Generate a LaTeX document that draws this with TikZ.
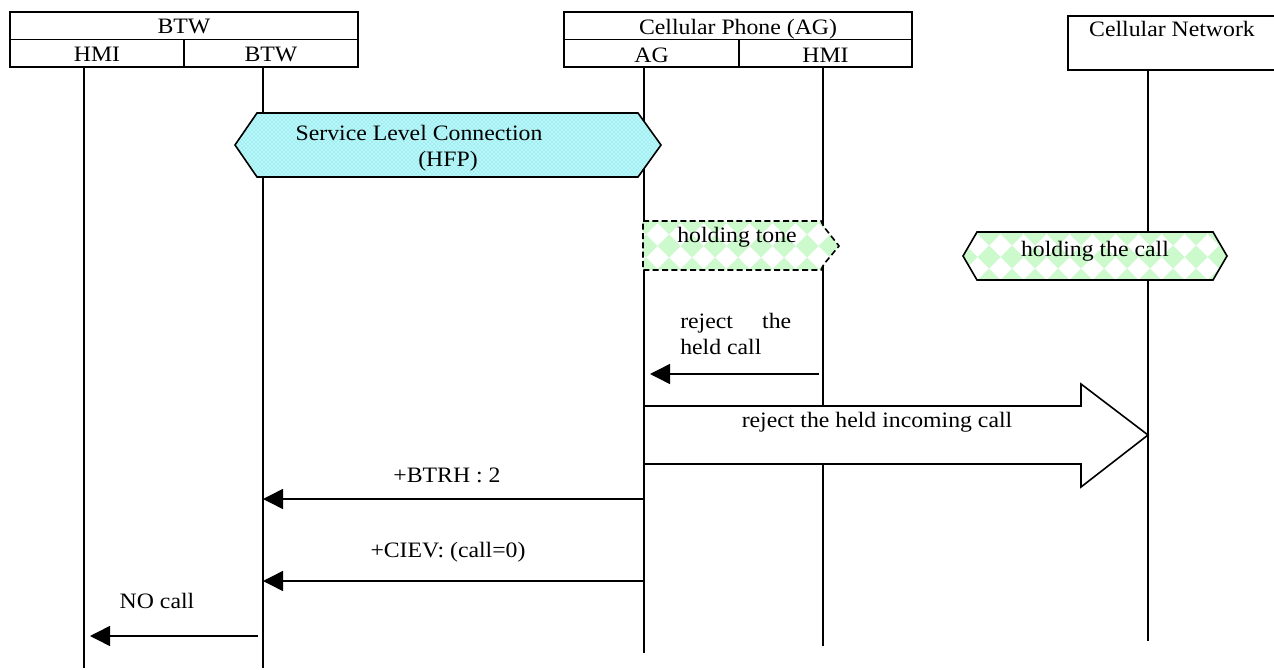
\documentclass[tikz,border=0pt]{standalone}
\usepackage{fontspec}
\setmainfont{Liberation Serif}[FakeStretch=1.08]
\usetikzlibrary{arrows.meta,patterns,calc}
\definecolor{mint}{RGB}{204,250,204}
\definecolor{slcfill}{RGB}{190,246,248}
\definecolor{slcdot}{RGB}{60,222,232}
\begin{document}
\begin{tikzpicture}[x=0.75pt,y=-0.75pt,
  font=\fontsize{16.5}{19}\selectfont,
  hbox/.style={draw, line width=1.3pt, rectangle, inner sep=0pt},
  life/.style={line width=1.1pt},
  msg/.style={line width=1.1pt, -{Triangle[length=15pt,width=15pt]}},
  txt/.style={inner sep=0pt, anchor=base},
  shapeline/.style={line width=1.2pt, line join=miter}
]
\useasboundingbox (0,0) rectangle (1274,670);

% ---------- header boxes ----------
\node[hbox, minimum width={348*0.75pt}, minimum height={27.5*0.75pt}] (btwT) at (184,25.75) {};
\node[hbox, minimum width={174*0.75pt}, minimum height={27.5*0.75pt}] (btwH) at (97,53.25) {};
\node[hbox, minimum width={174*0.75pt}, minimum height={27.5*0.75pt}] (btwB) at (271,53.25) {};
\node[txt] (tbtwT) at (184,34) {BTW};
\node[txt] (tbtwH) at (97,62) {HMI};
\node[txt] (tbtwB) at (271,62) {BTW};

\node[hbox, minimum width={348*0.75pt}, minimum height={27.5*0.75pt}] (phT) at (738,25.75) {};
\node[hbox, minimum width={175*0.75pt}, minimum height={27.5*0.75pt}] (phA) at (651.5,53.25) {};
\node[hbox, minimum width={173*0.75pt}, minimum height={27.5*0.75pt}] (phH) at (825.5,53.25) {};
\node[txt] (tphT) at (738,35) {Cellular Phone (AG)};
\node[txt] (tphA) at (651.5,62.5) {AG};
\node[txt] (tphH) at (825.5,62.5) {HMI};

\node[hbox, minimum width={212*0.75pt}, minimum height={54*0.75pt}, anchor=north west] (net) at (1067,15) {};
\node[txt] (tnet) at (1172,37) {Cellular Network};

% ---------- lifelines ----------
\coordinate (l1t) at (84,67);   \coordinate (l1b) at (84,668);
\coordinate (l2t) at (263,67);  \coordinate (l2b) at (263,668);
\coordinate (l3t) at (644,67);  \coordinate (l3b) at (644,653);
\coordinate (l4t) at (823,67);  \coordinate (l4b) at (823,646);
\coordinate (l5t) at (1148,69); \coordinate (l5b) at (1148,641);
\draw[life] (l1t) -- (l1b);
\draw[life] (l2t) -- (l2b);
\draw[life] (l3t) -- (l3b);
\draw[life] (l4t) -- (l4b);
\draw[life] (l5t) -- (l5b);

% ---------- Service Level Connection ----------
\fill[slcfill] (235,145) -- (257,113) -- (638,113) -- (661,145) -- (638,177) -- (257,177) -- cycle;
\fill[pattern=crosshatch dots, pattern color=slcdot] (235,145) -- (257,113) -- (638,113) -- (661,145) -- (638,177) -- (257,177) -- cycle;
\draw[shapeline] (235,145) -- (257,113) -- (638,113) -- (661,145) -- (638,177) -- (257,177) -- cycle;
\node[txt] (slc1) at (419,141) {Service Level Connection};
\node[txt] (slc2) at (448,167) {(HFP)};

% ---------- holding tone ----------
\begin{scope}
  \clip (643,221) -- (821,221) -- (824,227) -- (839,246) -- (824,264) -- (821,270) -- (643,270) -- cycle;
  \fill[white] (630,210) rectangle (850,280);
  \foreach \cx in {646,669,...,870}
    \foreach \cy in {223,246,...,300}
      \fill[mint] (\cx,\cy) +(-11.5,0) -- +(0,-11.5) -- +(11.5,0) -- +(0,11.5) -- cycle;
\end{scope}
\draw[shapeline, dash pattern=on 4.5pt off 2.5pt] (643,221) -- (821,221) -- (824,227) -- (839,246) -- (824,264) -- (821,270) -- (643,270) -- cycle;
\node[txt] (tone) at (737,243) {holding tone};

% ---------- holding the call ----------
\begin{scope}
  \clip (963,256) -- (977,232) -- (1213,232) -- (1227,256) -- (1213,280) -- (977,280) -- cycle;
  \fill[white] (955,225) rectangle (1235,290);
  \foreach \cx in {966,989,...,1250}
    \foreach \cy in {234,257,...,310}
      \fill[mint] (\cx,\cy) +(-11.5,0) -- +(0,-11.5) -- +(11.5,0) -- +(0,11.5) -- cycle;
\end{scope}
\draw[shapeline] (963,256) -- (977,232) -- (1213,232) -- (1227,256) -- (1213,280) -- (977,280) -- cycle;
\node[txt] (hold) at (1095,257) {holding the call};

% ---------- reject the held call ----------
\node[inner sep=0pt, anchor=base west] (rj1) at (680,329) {\makebox[83.25pt][s]{reject the}};
\node[inner sep=0pt, anchor=base west] (rj2) at (680,354) {held call};
\coordinate (rjS) at (819,374);
\coordinate (rjE) at (650,374);
\draw[msg] (rjS) -- (rjE);

% ---------- big arrow ----------
\coordinate (bigS) at (644,435);
\coordinate (bigE) at (1148,435);
\draw[shapeline, fill=white] ($(bigS)+(0,-29)$) -- ($(bigE)+(-67,-29)$) -- ($(bigE)+(-67,-51)$) -- (bigE)
  -- ($(bigE)+(-67,52)$) -- ($(bigE)+(-67,29)$) -- ($(bigS)+(0,29)$) -- cycle;
\node[txt] (big) at (877,427) {reject the held incoming call};

% ---------- messages ----------
\coordinate (m1S) at (644,499); \coordinate (m1E) at (263,499);
\draw[msg] (m1S) -- (m1E);
\node[txt] (m1) at (447,482) {+BTRH : 2};

\coordinate (m2S) at (644,581); \coordinate (m2E) at (263,581);
\draw[msg] (m2S) -- (m2E);
\node[txt] (m2) at (448,557) {+CIEV: (call=0)};

\coordinate (m3S) at (258,636); \coordinate (m3E) at (90,636);
\draw[msg] (m3S) -- (m3E);
\node[txt] (m3) at (157,608) {NO call};
\end{tikzpicture}
\end{document}
